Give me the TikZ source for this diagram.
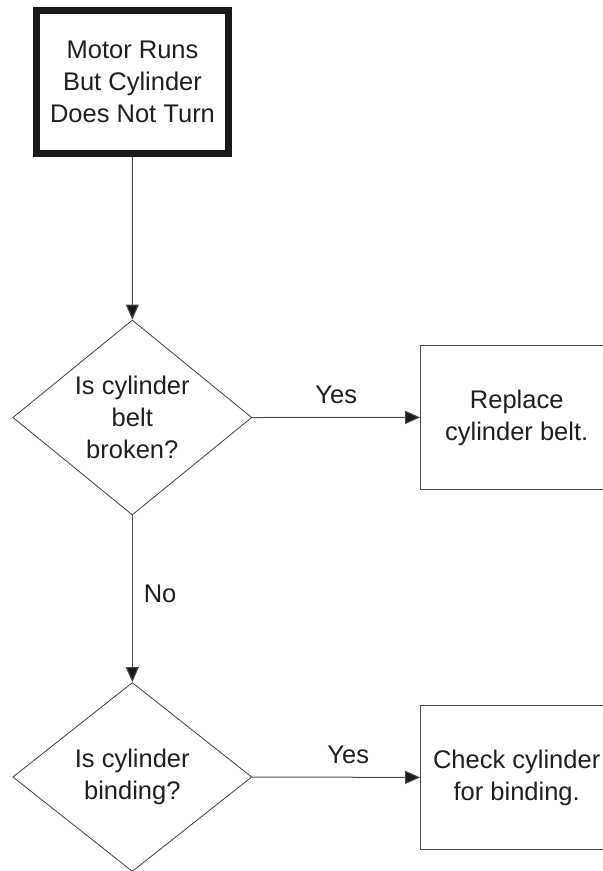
\documentclass[tikz,border=0pt]{standalone}
\usepackage{fontspec}
\setmainfont{Liberation Sans}
\usetikzlibrary{shapes.geometric,arrows.meta}
\begin{document}
\begin{tikzpicture}[x=1pt,y=-1pt,
  txt/.style={text=black!88,align=center,font=\fontsize{25.5}{32}\selectfont,inner sep=0pt},
  startbox/.style={draw=black!90,line width=6.5pt,minimum width=192pt,minimum height=143pt,inner sep=0pt},
  actbox/.style={draw=black!70,line width=1pt,minimum width=192pt,minimum height=143.3pt,inner sep=0pt},
  decision/.style={diamond,draw=black!75,line width=0.8pt,minimum width=239pt,minimum height=195pt,inner sep=0pt},
  conn/.style={draw=black!70,line width=1pt,-{Triangle[length=15pt,width=13pt,fill=black!90]}},
  lbl/.style={text=black!88,font=\fontsize{25.5}{32}\selectfont,inner sep=0pt}]
\useasboundingbox (0,0) rectangle (603,871);
\clip (0,0) rectangle (603,871);
\fill[white] (0,0) rectangle (603,871);

\node[startbox] (start) at (132.5,82) {};
\node[txt] at (start) {Motor Runs\\But Cylinder\\Does Not Turn};

\node[decision] (d1) at (132.3,417.5) {};
\node[txt] at (d1) {Is cylinder\\belt\\broken?};

\node[actbox] (b1) at (516.7,417.4) {};
\node[txt] at (b1) {Replace\\cylinder belt.};

\node[decision,minimum height=189pt] (d2) at (132.3,777) {};
\node[txt] at (d2) {Is cylinder\\binding?};

\node[actbox] (b2) at (516.7,777.4) {};
\node[txt] at (b2) {Check cylinder\\for binding.};

\draw[conn] (start.south) -- (d1.north);
\draw[conn] (d1.east) -- node[lbl,above=13pt] (y1) {Yes} (b1.west);
\draw[conn] (d1.south) -- node[lbl,right=11pt,pos=0.47] (n1) {No} (d2.north);
\draw[conn] (d2.east) -- node[lbl,above=13pt,xshift=12pt] (y2) {Yes} (b2.west);
\end{tikzpicture}
\end{document}
